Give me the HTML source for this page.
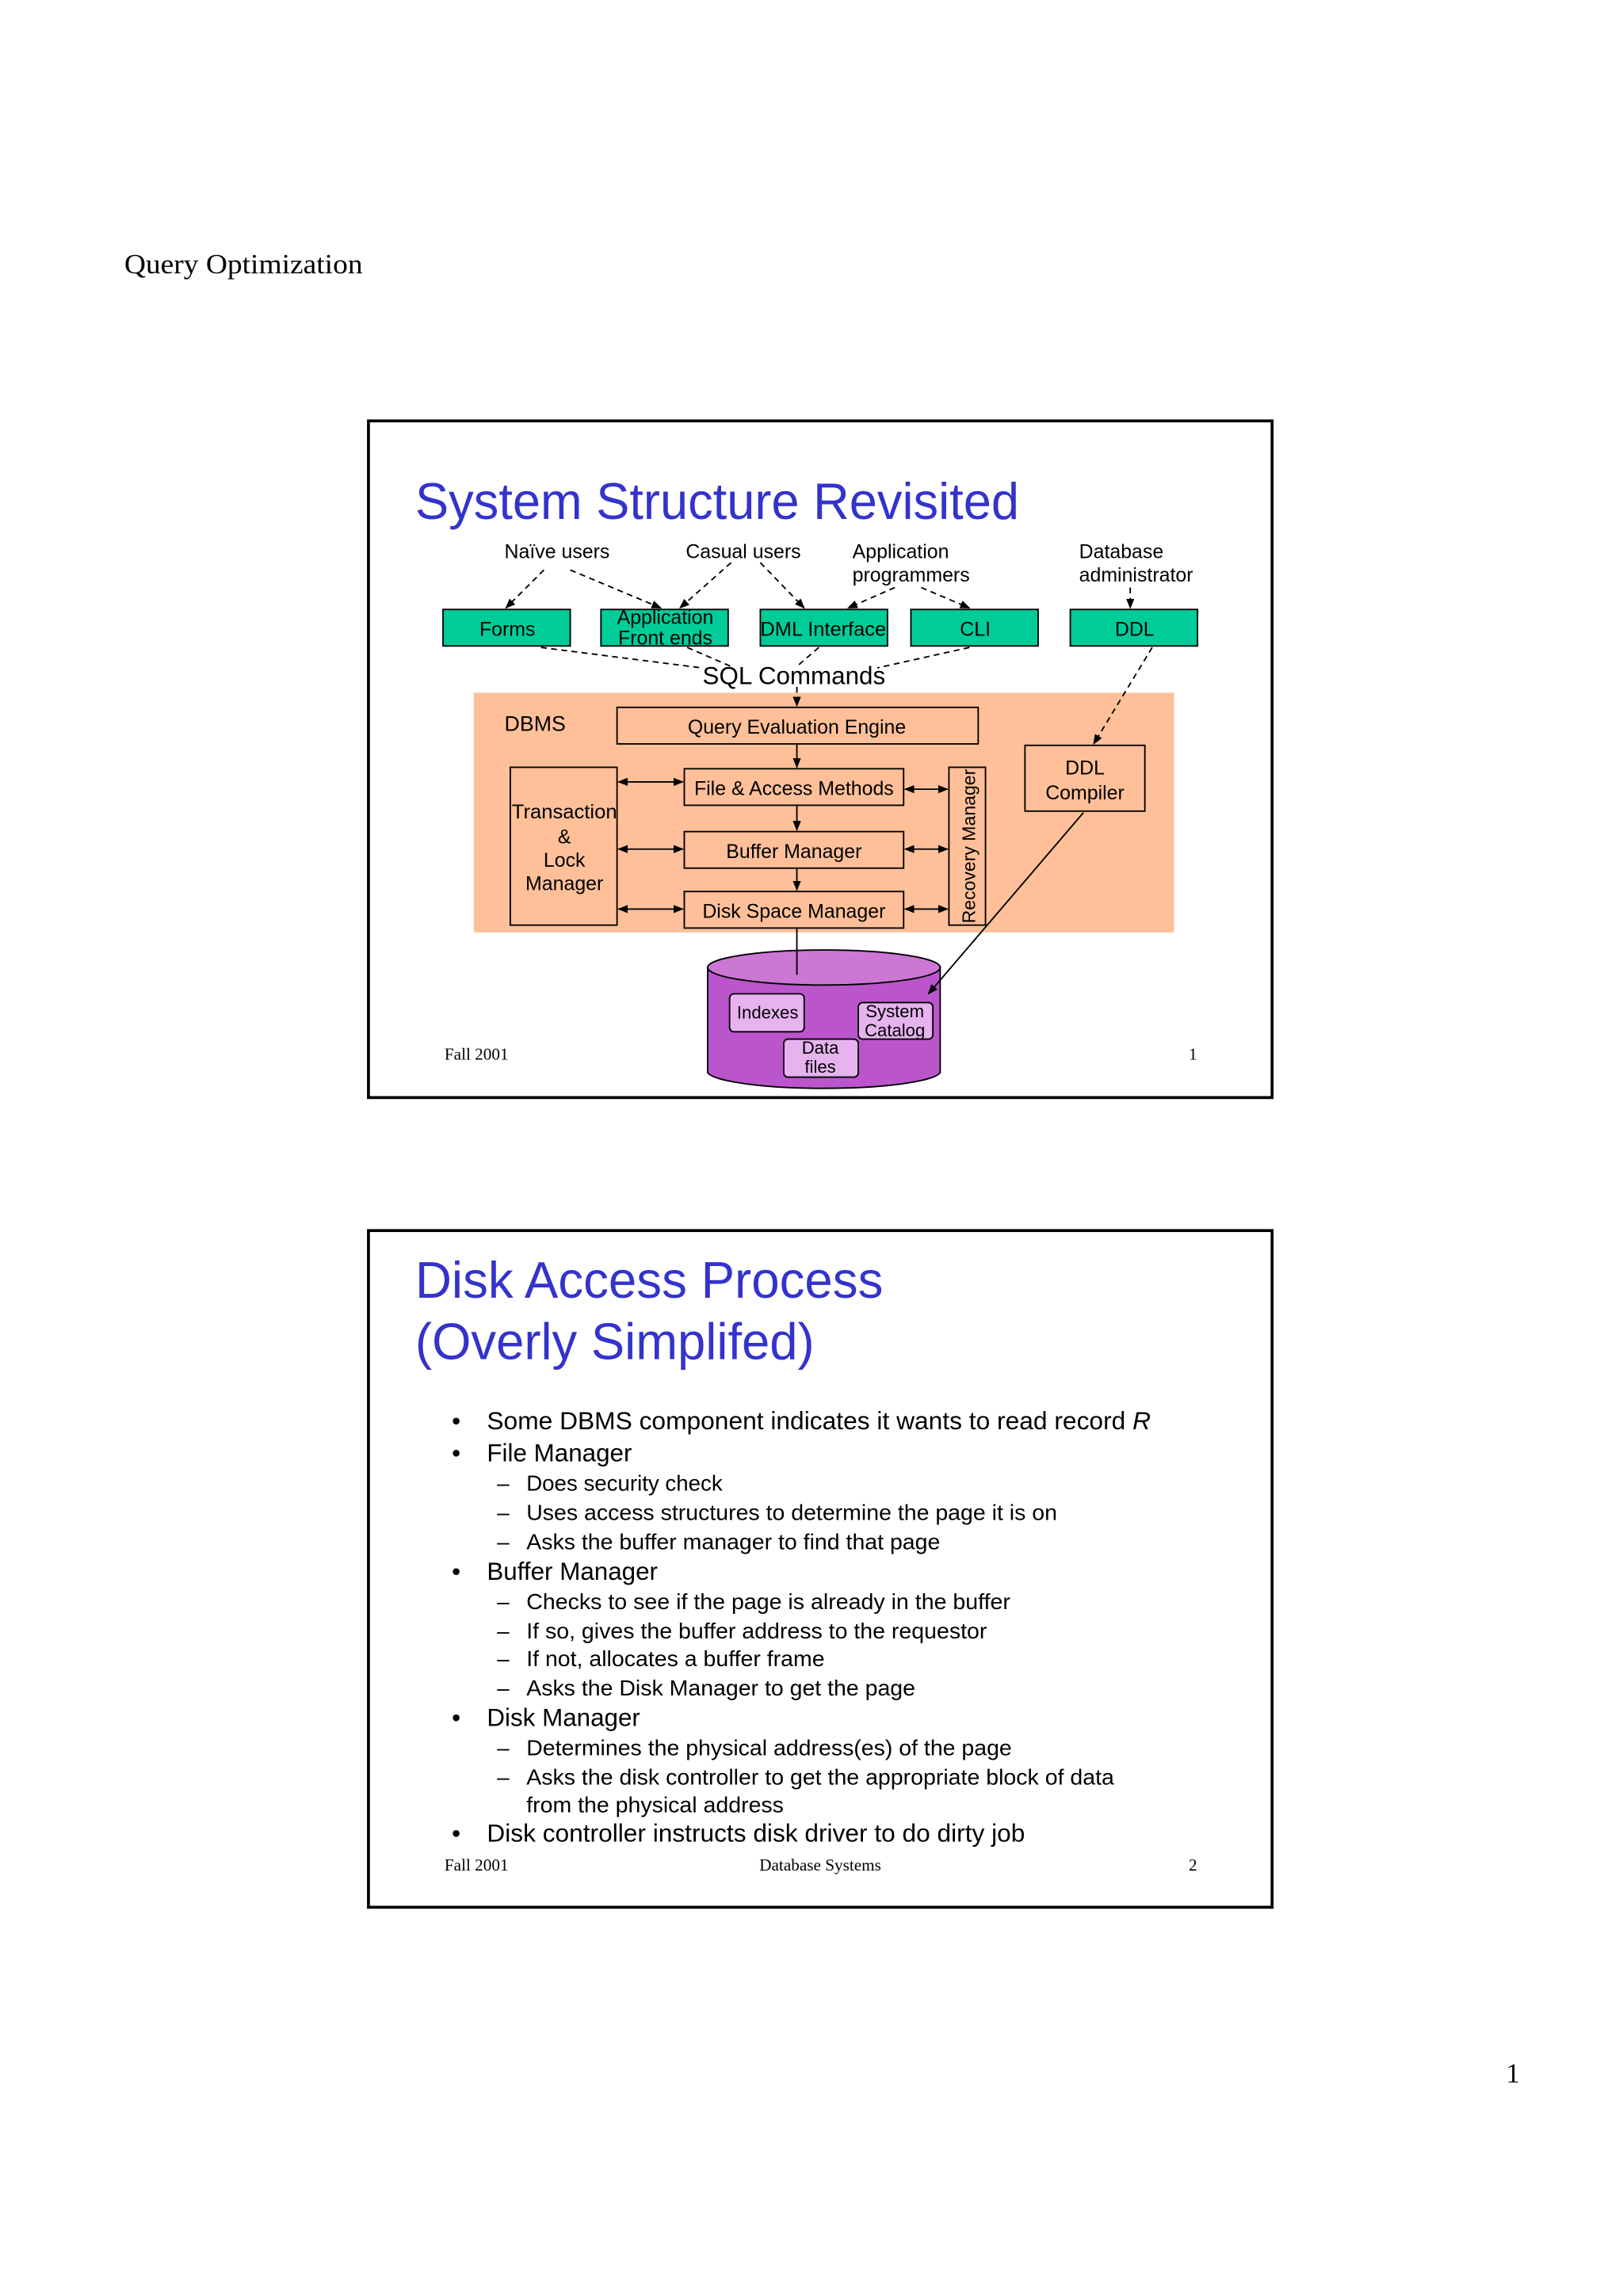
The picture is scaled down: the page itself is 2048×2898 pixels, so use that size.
<!DOCTYPE html>
<html><head><meta charset="utf-8"><style>
html,body{margin:0;padding:0;background:#fff}
svg{display:block}
text{font-family:"Liberation Sans",Arial,sans-serif}
.serif{font-family:"Liberation Serif","Times New Roman",serif}
</style></head><body>
<svg width="2048" height="2898" viewBox="0 0 1110 1571" preserveAspectRatio="none" xmlns="http://www.w3.org/2000/svg">
<defs>
<marker id="a" viewBox="0 0 10 10" refX="9" refY="5" markerWidth="7" markerHeight="7" orient="auto-start-reverse"><path d="M0,1 L10,5 L0,9 z" fill="#000"/></marker>
</defs>
<rect width="1110" height="1571" fill="#fff"/>
<text x="85" y="187" class="serif" font-size="19" textLength="163" lengthAdjust="spacingAndGlyphs">Query Optimization</text>

<!-- Slide 1 -->
<rect x="252" y="288" width="618" height="463" fill="#fff" stroke="#000" stroke-width="2"/>
<text x="284" y="355" font-size="35" fill="#3333cc" textLength="413" lengthAdjust="spacingAndGlyphs">System Structure Revisited</text>
<g font-size="13.5">
<text x="345" y="382">Naïve users</text>
<text x="469" y="382">Casual users</text>
<text x="583" y="382">Application</text>
<text x="583" y="398">programmers</text>
<text x="738" y="382">Database</text>
<text x="738" y="398">administrator</text>
</g>
<g fill="#00cc99" stroke="#000" stroke-width="1">
<rect x="303" y="417" width="87" height="25"/>
<rect x="411" y="417" width="87" height="25"/>
<rect x="520" y="417" width="87" height="25"/>
<rect x="623" y="417" width="87" height="25"/>
<rect x="732" y="417" width="87" height="25"/>
</g>
<g font-size="13.5" text-anchor="middle">
<text x="347" y="435">Forms</text>
<text x="455" y="427">Application</text>
<text x="455" y="441">Front ends</text>
<text x="563" y="435" textLength="86" lengthAdjust="spacingAndGlyphs">DML Interface</text>
<text x="667" y="435">CLI</text>
<text x="776" y="435">DDL</text>
</g>
<rect x="324" y="474" width="479" height="164" fill="#ffc099"/>
<g stroke="#000" stroke-width="1" stroke-dasharray="4,3" fill="none" marker-end="url(#a)">
<line x1="372" y1="390" x2="346" y2="416"/>
<line x1="390" y1="390" x2="452" y2="416"/>
<line x1="500" y1="385" x2="465" y2="416"/>
<line x1="520" y1="385" x2="550" y2="416"/>
<line x1="612" y1="402" x2="580" y2="416"/>
<line x1="630" y1="402" x2="663" y2="416"/>
<line x1="773" y1="402" x2="773" y2="416"/>
<line x1="545" y1="470" x2="545" y2="483"/>
<line x1="788" y1="443" x2="748" y2="509"/>
</g>
<g stroke="#000" stroke-width="1" stroke-dasharray="4,3" fill="none">
<line x1="370" y1="443" x2="480" y2="457"/>
<line x1="470" y1="443" x2="500" y2="456"/>
<line x1="560" y1="443" x2="545" y2="456"/>
<line x1="663" y1="443" x2="600" y2="457"/>
</g>
<text x="543" y="468" font-size="17" text-anchor="middle">SQL Commands</text>

<text x="345" y="500" font-size="14.5">DBMS</text>
<g fill="none" stroke="#000" stroke-width="1">
<rect x="422" y="484" width="247" height="25"/>
<rect x="468" y="526" width="150" height="25"/>
<rect x="468" y="569" width="150" height="25"/>
<rect x="468" y="610" width="150" height="25"/>
<rect x="349" y="525" width="73" height="108"/>
<rect x="649" y="525" width="25" height="108"/>
<rect x="701" y="510" width="82" height="45"/>
</g>
<g font-size="13.5" text-anchor="middle">
<text x="545" y="502">Query Evaluation Engine</text>
<text x="543" y="544">File &amp; Access Methods</text>
<text x="543" y="587">Buffer Manager</text>
<text x="543" y="628">Disk Space Manager</text>
<text x="386" y="560" textLength="72" lengthAdjust="spacingAndGlyphs">Transaction</text>
<text x="386" y="577">&amp;</text>
<text x="386" y="593">Lock</text>
<text x="386" y="609">Manager</text>
<text x="742" y="530">DDL</text>
<text x="742" y="547">Compiler</text>
<text transform="translate(667,579) rotate(-90)" font-size="12.5">Recovery Manager</text>
</g>
<g stroke="#000" stroke-width="1" fill="none">
<line x1="545" y1="509" x2="545" y2="525" marker-end="url(#a)"/>
<line x1="545" y1="551" x2="545" y2="568" marker-end="url(#a)"/>
<line x1="545" y1="594" x2="545" y2="609" marker-end="url(#a)"/>
<line x1="423" y1="535" x2="467" y2="535" marker-start="url(#a)" marker-end="url(#a)"/>
<line x1="423" y1="581" x2="467" y2="581" marker-start="url(#a)" marker-end="url(#a)"/>
<line x1="423" y1="622" x2="467" y2="622" marker-start="url(#a)" marker-end="url(#a)"/>
<line x1="619" y1="540" x2="648" y2="540" marker-start="url(#a)" marker-end="url(#a)"/>
<line x1="619" y1="581" x2="648" y2="581" marker-start="url(#a)" marker-end="url(#a)"/>
<line x1="619" y1="622" x2="648" y2="622" marker-start="url(#a)" marker-end="url(#a)"/>
</g>
<!-- cylinder -->
<path d="M484,662 L484,734 A80,12 0 0 0 643,734 L643,662 Z" fill="#bb55cc" stroke="#000" stroke-width="1"/>
<ellipse cx="563.5" cy="662" rx="79.5" ry="12" fill="#cc77d4" stroke="#000" stroke-width="1"/>
<line x1="545" y1="635" x2="545" y2="667" stroke="#000" stroke-width="1"/>
<line x1="741" y1="556" x2="635" y2="680" stroke="#000" stroke-width="1" marker-end="url(#a)"/>
<g fill="#e6b3ef" stroke="#000" stroke-width="1">
<rect x="499" y="680" width="51" height="26" rx="3"/>
<rect x="587" y="686" width="51" height="25" rx="3"/>
<rect x="536" y="711" width="51" height="26" rx="3"/>
</g>
<g font-size="12" text-anchor="middle">
<text x="525" y="697">Indexes</text>
<text x="612" y="696">System</text>
<text x="612" y="709">Catalog</text>
<text x="561" y="721">Data</text>
<text x="561" y="734">files</text>
</g>
<text x="304" y="725" class="serif" font-size="11.5">Fall 2001</text>
<text x="813" y="725" class="serif" font-size="11.5">1</text>

<!-- Slide 2 -->
<rect x="252" y="842" width="618" height="463" fill="#fff" stroke="#000" stroke-width="2"/>
<text x="284" y="888" font-size="35" fill="#3333cc" textLength="320" lengthAdjust="spacingAndGlyphs">Disk Access Process</text>
<text x="284" y="930" font-size="35" fill="#3333cc" textLength="273" lengthAdjust="spacingAndGlyphs">(Overly Simplifed)</text>
<g font-size="17">
<text x="309" y="978">•</text><text x="333" y="978" textLength="454" lengthAdjust="spacingAndGlyphs">Some DBMS component indicates it wants to read record <tspan font-style="italic">R</tspan></text>
<text x="309" y="1000">•</text><text x="333" y="1000">File Manager</text>
<text x="309" y="1081">•</text><text x="333" y="1081">Buffer Manager</text>
<text x="309" y="1181">•</text><text x="333" y="1181">Disk Manager</text>
<text x="309" y="1260">•</text><text x="333" y="1260" textLength="368" lengthAdjust="spacingAndGlyphs">Disk controller instructs disk driver to do dirty job</text>
</g>
<g font-size="15">
<text x="340" y="1020">–</text><text x="360" y="1020">Does security check</text>
<text x="340" y="1040">–</text><text x="360" y="1040" textLength="363" lengthAdjust="spacingAndGlyphs">Uses access structures to determine the page it is on</text>
<text x="340" y="1060">–</text><text x="360" y="1060" textLength="283" lengthAdjust="spacingAndGlyphs">Asks the buffer manager to find that page</text>
<text x="340" y="1101">–</text><text x="360" y="1101" textLength="331" lengthAdjust="spacingAndGlyphs">Checks to see if the page is already in the buffer</text>
<text x="340" y="1121">–</text><text x="360" y="1121" textLength="315" lengthAdjust="spacingAndGlyphs">If so, gives the buffer address to the requestor</text>
<text x="340" y="1140">–</text><text x="360" y="1140" textLength="204" lengthAdjust="spacingAndGlyphs">If not, allocates a buffer frame</text>
<text x="340" y="1160">–</text><text x="360" y="1160" textLength="266" lengthAdjust="spacingAndGlyphs">Asks the Disk Manager to get the page</text>
<text x="340" y="1201">–</text><text x="360" y="1201" textLength="332" lengthAdjust="spacingAndGlyphs">Determines the physical address(es) of the page</text>
<text x="340" y="1221">–</text><text x="360" y="1221" textLength="402" lengthAdjust="spacingAndGlyphs">Asks the disk controller to get the appropriate block of data</text>
<text x="360" y="1240" textLength="176" lengthAdjust="spacingAndGlyphs">from the physical address</text>
</g>
<text x="304" y="1280" class="serif" font-size="11.5">Fall 2001</text>
<text x="561" y="1280" class="serif" font-size="11.5" text-anchor="middle">Database Systems</text>
<text x="813" y="1280" class="serif" font-size="11.5">2</text>

<text x="1030" y="1425" class="serif" font-size="19">1</text>
</svg>
</body></html>
